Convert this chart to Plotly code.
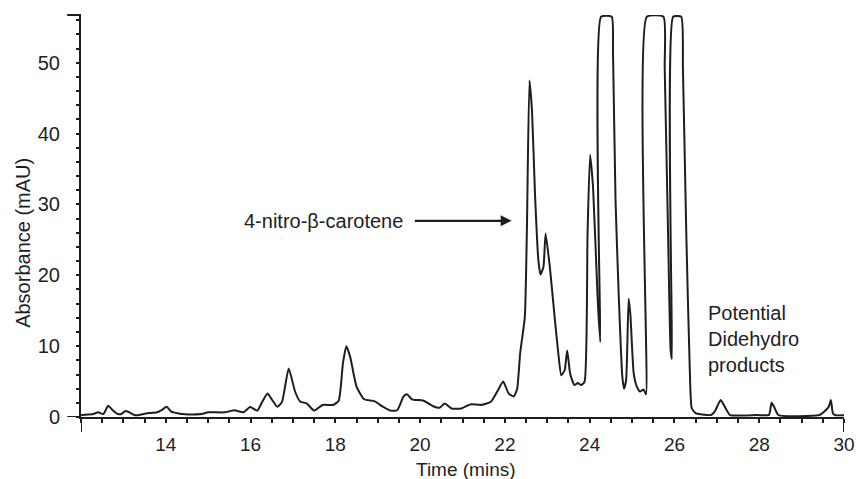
import plotly.graph_objects as go

SAT = 56.5

time_min = [
    12.00, 12.04, 12.29, 12.40, 12.53, 12.64, 12.74, 12.87, 12.95, 13.05,
    13.14, 13.26, 13.37, 13.53, 13.80, 13.91, 14.02, 14.13, 14.30, 14.46,
    14.84, 15.00, 15.39, 15.62, 15.83, 15.99, 16.16, 16.28, 16.40, 16.51,
    16.63, 16.74, 16.90, 17.05, 17.17, 17.33, 17.50, 17.70, 17.95, 18.08,
    18.18, 18.26, 18.35, 18.50, 18.68, 18.92, 19.11, 19.30, 19.46, 19.61,
    19.69, 19.81, 20.08, 20.35, 20.47, 20.58, 20.74, 20.97, 21.20, 21.43,
    21.67, 21.82, 21.96, 22.09, 22.21, 22.29, 22.36, 22.47, 22.52, 22.58,
    22.64, 22.71, 22.79, 22.84, 22.91, 22.96, 23.06, 23.18, 23.26, 23.33,
    23.41, 23.47, 23.54, 23.64, 23.72, 23.80, 23.88, 23.95, 24.01, 24.08,
    24.19, 24.25, 24.27, 24.52, 24.55, 24.61, 24.69, 24.77, 24.81, 24.86,
    24.92, 24.96, 25.04, 25.12, 25.19, 25.27, 25.33, 25.35, 25.74, 25.77,
    25.85, 25.91, 25.94, 25.97, 26.16, 26.20, 26.28, 26.36, 26.41, 26.51,
    26.63, 26.86, 26.95, 27.09, 27.21, 27.31, 27.95, 28.23, 28.29, 28.35,
    28.45, 29.42, 29.53, 29.64, 29.69, 29.74, 29.80, 30.00,
]

absorbance_mau = [
    0.25, 0.28, 0.42, 0.66, 0.42, 1.6, 1.0, 0.42, 0.42, 0.85,
    0.66, 0.28, 0.28, 0.5, 0.66, 1.0, 1.45, 0.75, 0.5, 0.38,
    0.42, 0.66, 0.66, 0.95, 0.66, 1.4, 0.9, 2.2, 3.3, 2.4,
    1.45, 2.1, 6.85, 3.6, 2.2, 1.9, 0.9, 1.7, 1.7, 2.3,
    7.6, 10.0, 8.5, 4.3, 2.5, 2.25, 1.5, 0.9, 0.95, 2.9,
    3.2, 2.5, 2.3, 1.4, 1.35, 1.9, 1.2, 1.2, 1.8, 1.7,
    2.15, 3.6, 5.0, 3.3, 2.9, 4.0, 9.0, 14.1, 26.8, 47.5,
    43.2, 31.5, 22.1, 20.1, 21.2, 25.9, 21.2, 13.7, 9.0, 5.9,
    6.6, 9.4, 6.1, 4.5, 4.8, 4.5, 5.0, 25.9, 37.0, 32.4,
    16.5, 10.6, SAT, SAT, 51.7, 30.6, 16.5, 5.7, 4.0, 5.2,
    16.7, 14.5, 6.1, 4.2, 3.6, 3.9, 3.2, SAT, SAT, 49.3,
    25.8, 9.4, 8.2, SAT, SAT, 49.3, 25.8, 7.1, 1.2, 0.5,
    0.38, 0.28, 0.75, 2.4, 1.2, 0.28, 0.28, 0.3, 2.0, 1.45,
    0.28, 0.28, 0.75, 1.45, 2.4, 0.5, 0.25, 0.25,
]

x_tick_vals = [14, 16, 18, 20, 22, 24, 26, 28, 30]
y_tick_vals = [0, 10, 20, 30, 40, 50]

FONT = "Liberation Sans, Arial, sans-serif"
INK = "#1e1e1e"
FS = 20
FS_AX = 19

fig = go.Figure()
fig.add_trace(go.Scatter(
    x=time_min, y=absorbance_mau, mode="lines",
    line=dict(color=INK, width=2, shape="spline", smoothing=0.5),
    hoverinfo="skip", showlegend=False,
))

plot_h = 479 - 15 - 62
plot_w = 867 - 81 - 12
ext_y = 15 / plot_h
ext_x = 14 / plot_w

shapes = [
    dict(type="line", xref="x", yref="paper", x0=12, x1=12, y0=0, y1=-ext_y,
         line=dict(color=INK, width=2)),
    dict(type="line", xref="x", yref="paper", x0=30, x1=30, y0=0, y1=-ext_y,
         line=dict(color=INK, width=2)),
    dict(type="line", xref="paper", yref="y", x0=-ext_x, x1=0, y0=0, y1=0,
         line=dict(color=INK, width=2)),
    dict(type="line", xref="paper", yref="paper", x0=-ext_x, x1=0, y0=1, y1=1,
         line=dict(color=INK, width=2)),
]

annotations = [
    dict(x=19.84, y=27.7, xref="x", yref="y", text="4-nitro-β-carotene",
         showarrow=False, xanchor="right", yanchor="middle",
         xshift=-8, font=dict(size=FS, color=INK, family=FONT)),
    dict(x=22.16, y=27.7, ax=19.84, ay=27.7, xref="x", yref="y",
         axref="x", ayref="y", text="", showarrow=True,
         arrowhead=2, arrowsize=1, arrowwidth=2.2, arrowcolor=INK),
    dict(x=26.74, y=(417 - 339) / 7.1, xref="x", yref="y",
         text="Potential<br>Didehydro<br>products", align="left",
         showarrow=False, xanchor="left", yanchor="middle",
         font=dict(size=FS, color=INK, family=FONT)),
    dict(x=(472 - 81) / plot_w, y=-(469 - 417) / plot_h, xref="paper", yref="paper",
         text="Time (mins)", showarrow=False, xanchor="center", yanchor="middle",
         font=dict(size=FS_AX, color=INK, family=FONT)),
    dict(x=-(81 - 22) / plot_w, y=(417 - 243) / plot_h, xref="paper", yref="paper",
         text="Absorbance (mAU)", textangle=-90, showarrow=False,
         xanchor="center", yanchor="middle",
         font=dict(size=FS, color=INK, family=FONT)),
]

fig.update_layout(
    width=867, height=479,
    margin=dict(l=81, r=12, t=15, b=62),
    paper_bgcolor="white", plot_bgcolor="white",
    font=dict(family=FONT, size=FS, color=INK),
    shapes=shapes, annotations=annotations,
    xaxis=dict(
        range=[12, 30], tickmode="array", tickvals=x_tick_vals,
        showline=True, linecolor=INK, linewidth=2,
        ticks="outside", ticklen=4, tickwidth=2, tickcolor=INK,
        ticklabelstandoff=5, tickfont=dict(size=FS_AX),
        minor=dict(dtick=0.5, tick0=12, ticks="outside", ticklen=4,
                   tickwidth=2, tickcolor=INK, showgrid=False),
        showgrid=False, zeroline=False,
    ),
    yaxis=dict(
        range=[0, 56.75], tickmode="array", tickvals=y_tick_vals,
        showline=True, linecolor=INK, linewidth=2,
        ticks="outside", ticklen=3, tickwidth=2, tickcolor=INK,
        ticklabelstandoff=12, tickfont=dict(size=FS),
        minor=dict(dtick=2, tick0=0, ticks="outside", ticklen=3,
                   tickwidth=2, tickcolor=INK, showgrid=False),
        showgrid=False, zeroline=False,
    ),
)

fig.write_html(
    "out.html",
    config={"displayModeBar": False},
    post_script="document.body.style.margin='0';document.body.style.padding='0';",
)
